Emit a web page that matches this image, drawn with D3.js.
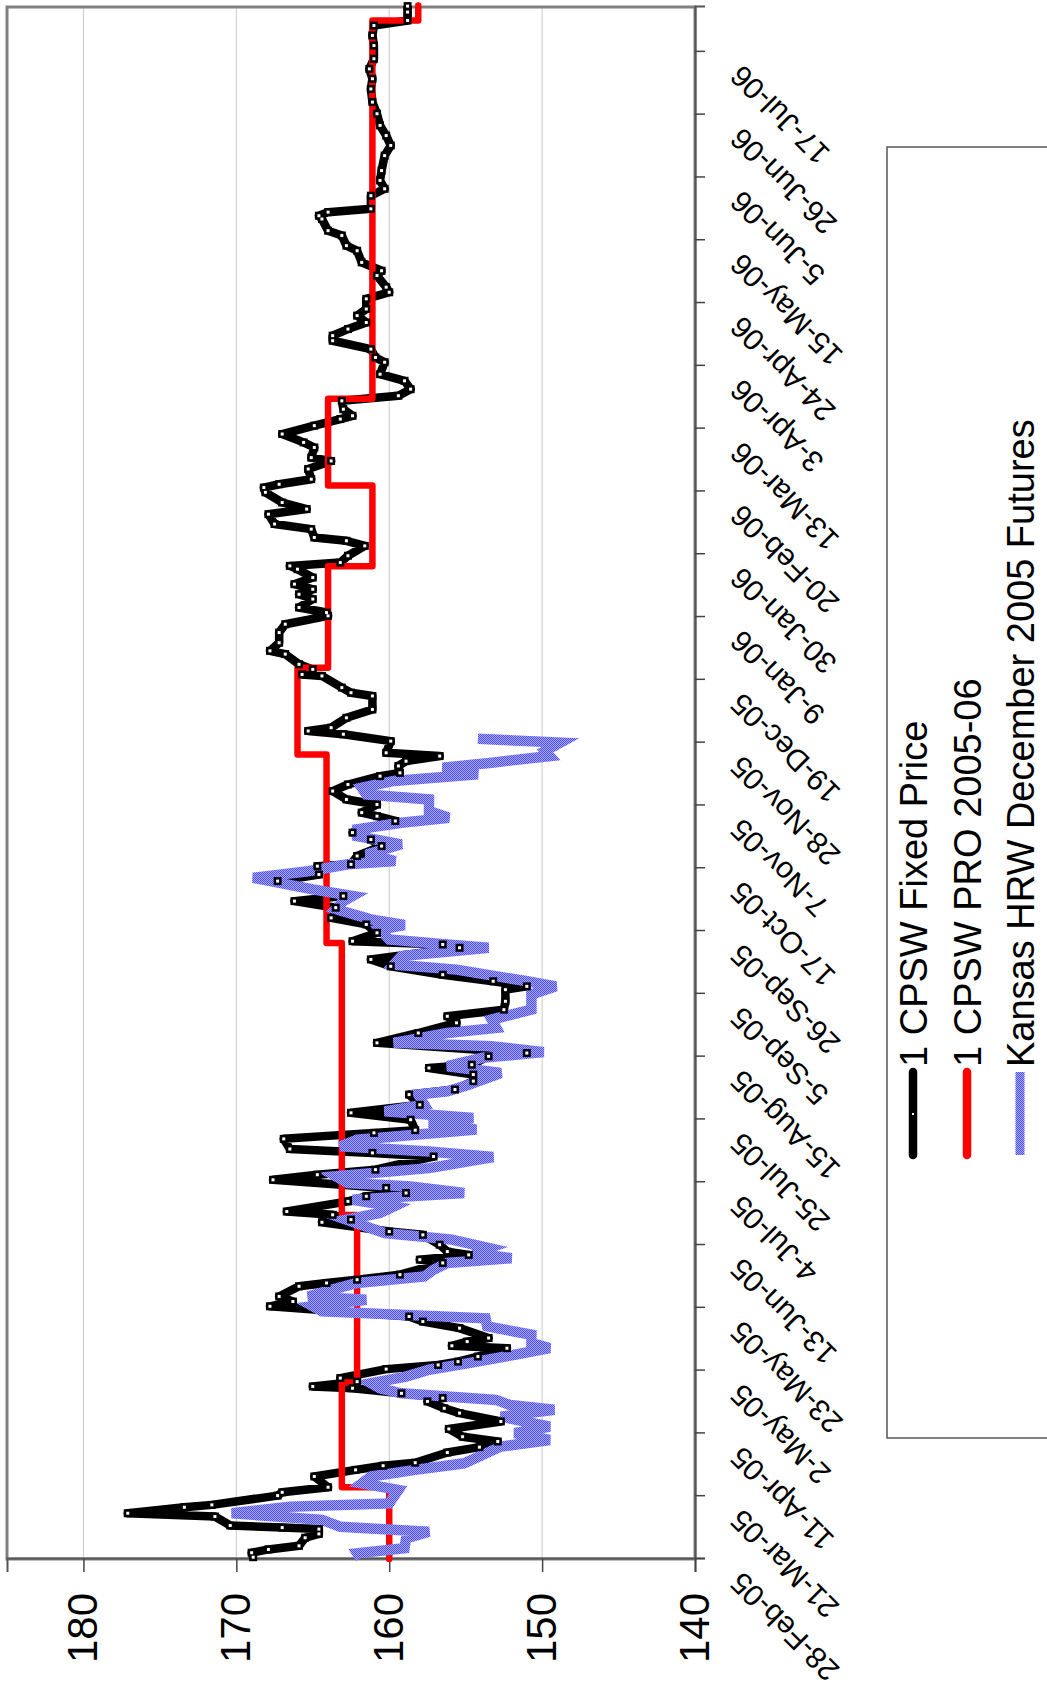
<!DOCTYPE html>
<html><head><meta charset="utf-8">
<script src="https://cdn.jsdelivr.net/npm/d3@7"></script>
<style>body{margin:0;background:#fff} svg{display:block}</style>
</head><body>
<script>
// ---------- DATA ----------
const startDate = "2005-02-28";
const endDate = "2006-08-01";
const dateTickLabels = ["28-Feb-05","21-Mar-05","11-Apr-05","2-May-05","23-May-05","13-Jun-05","4-Jul-05","25-Jul-05","15-Aug-05","5-Sep-05","26-Sep-05","17-Oct-05","7-Nov-05","28-Nov-05","19-Dec-05","9-Jan-06","30-Jan-06","20-Feb-06","13-Mar-06","3-Apr-06","24-Apr-06","15-May-06","5-Jun-06","26-Jun-06","17-Jul-06"];
const valueTicks = [140,150,160,170,180];
const seriesNames = ["1 CPSW Fixed Price","1 CPSW PRO 2005-06","Kansas HRW December 2005 Futures"];

// days since 28-Feb-05
const fixedDays = [0.6,2.1,3.2,4.4,7.1,8.4,10.0,10.5,11.2,14.2,15.3,17.3,18.1,21.2,22.3,24.0,27.6,29.8,31.2,32.2,35.6,37.4,39.3,40.9,43.5,46.0,48.8,50.4,52.7,53.8,55.4,57.1,57.7,59.3,60.5,63.5,64.9,66.0,67.7,70.5,71.3,72.7,73.9,77.2,79.4,81.1,84.5,86.1,87.8,91.2,92.3,93.4,95.1,99.0,100.1,101.7,102.8,105.1,108.4,109.5,112.6,113.5,115.1,116.2,119.6,121.3,122.4,124.1,126.8,128.5,130.2,134.6,135.8,137.1,140.5,142.5,143.4,146.9,149.2,151.9,155.3,157.0,159.8,162.0,164.2,165.3,168.1,169.2,172.6,175.9,179.3,181.5,183.7,186.5,190.4,191.5,193.2,195.4,198.2,200.5,204.4,205.5,206.6,209.4,212.2,214.4,217.8,220.0,221.7,226.7,228.9,231.7,232.3,235.1,238.4,240.6,242.9,246.8,248.4,249.6,252.3,254.0,256.8,259.0,261.8,262.9,265.2,266.8,268.5,269.6,273.5,275.8,276.9,278.0,281.3,284.1,288.6,289.7,291.4,295.3,295.8,297.5,299.2,302.6,303.7,306.4,309.8,312.6,315.4,316.5,318.2,321.0,322.6,324.3,326.0,328.2,331.0,332.1,333.2,335.5,338.8,340.5,341.6,344.4,346.1,349.4,351.1,353.3,356.7,358.3,359.4,361.1,364.5,367.2,368.3,371.7,373.4,376.2,379.0,381.2,382.3,384.5,387.3,389.0,391.2,394.0,396.2,400.2,401.8,404.6,407.4,409.1,411.3,413.5,415.8,418.0,421.4,423.6,425.3,429.2,430.8,433.6,437.5,439.2,442.6,444.2,448.1,449.2,450.4,451.5,455.9,458.2,461.0,464.3,469.3,472.7,476.0,479.4,483.3,487.2,491.6,495.0,498.3,501.7,506.1,509.5,512.8,514.5,517.3,519.3];
const fixedValues = [168.9,169.0,167.9,165.9,165.5,164.6,164.6,167.0,170.4,171.4,177.1,173.4,171.6,167.3,167.0,164.0,164.9,162.2,160.4,158.3,156.2,154.1,152.9,155.2,156.1,152.7,155.4,156.4,157.5,156.5,159.2,162.4,165.0,162.1,163.2,160.2,156.8,155.5,154.2,152.3,155.9,154.9,153.5,155.4,157.8,158.7,167.8,166.3,167.2,165.9,164.1,162.1,159.3,156.5,158.0,154.8,156.2,156.7,157.8,160.0,164.4,162.5,163.7,166.7,162.7,161.5,158.9,160.2,167.6,164.7,160.9,157.1,161.1,166.5,166.9,161.0,158.3,158.6,162.5,158.0,158.7,155.7,154.5,154.5,157.4,154.6,153.5,151.0,160.8,158.1,155.6,156.2,152.5,152.4,152.4,151.0,153.2,156.5,159.9,161.2,155.4,156.5,162.4,160.8,161.5,163.8,163.5,166.2,163.0,167.3,164.6,164.7,162.5,162.1,160.5,161.2,162.4,159.6,160.8,161.8,160.8,162.8,163.7,162.7,160.6,159.3,159.4,158.9,156.7,160.2,159.9,163.0,165.3,163.8,162.8,161.1,161.1,162.5,163.1,164.4,165.7,165.0,165.9,166.8,167.8,167.2,167.2,166.8,164.0,164.1,165.9,165.0,165.9,165.0,166.2,165.0,166.0,166.5,163.2,162.7,161.6,162.8,164.9,165.1,167.5,167.9,165.4,167.0,168.1,168.2,167.2,165.1,165.3,163.8,165.1,164.9,165.6,167.0,164.9,163.2,162.4,163.0,163.1,159.4,158.6,159.0,160.6,160.3,160.9,161.2,163.7,163.7,162.7,161.5,162.1,161.5,161.5,160.0,160.2,160.8,160.5,161.8,162.1,162.8,163.1,164.0,164.4,164.6,164.0,161.2,161.2,160.3,160.6,160.5,160.3,159.9,160.2,160.6,160.8,161.1,161.2,161.1,161.3,161.0,161.0,161.1,161.0,158.8,158.8,158.8];

const proDays = [0,24,59,115,206,269,298,332,359,388,514.5,519.5];
const proValues = [160.0,163.1,162.1,163.1,164.1,166.0,164.0,161.1,164.0,161.1,158.1,158.1];

const futuresDays = [0.2,1.9,3.6,6.9,9.1,10.8,13.1,15.3,17.5,18.6,20.9,23.1,25.3,27.6,29.8,32.0,34.8,37.6,39.8,42.1,44.3,47.6,49.9,51.5,53.2,55.4,57.1,58.8,61.0,63.3,65.5,68.3,70.5,72.2,75.0,77.8,80.5,82.8,84.5,86.7,87.8,90.0,92.3,94.5,96.7,99.0,100.6,102.3,104.0,106.8,109.0,113.5,115.7,117.9,120.1,122.4,124.6,125.7,128.0,130.7,134.4,136.3,138.0,140.2,143.6,145.8,147.5,149.7,151.9,155.3,156.4,158.6,162.5,164.8,167.6,169.5,171.5,172.6,175.9,177.6,180.4,183.7,186.0,188.8,191.5,193.2,197.1,198.8,201.6,204.4,205.5,207.2,210.5,212.0,213.9,217.3,220.0,221.7,223.9,227.8,230.0,232.3,233.4,235.6,239.0,241.7,244.0,246.2,247.9,250.1,254.0,255.7,257.9,260.2,262.4,264.6,266.3,268.5,270.2,273.0,274.3];
const futuresValues = [161.9,162.1,159.0,158.9,157.4,163.2,164.4,170.3,166.5,160.0,159.7,159.4,161.8,161.2,158.3,155.1,153.9,152.7,149.5,151.8,149.5,152.7,149.2,152.1,153.0,159.2,160.6,161.2,158.9,157.4,154.8,151.8,149.5,150.7,150.7,153.6,153.7,164.4,165.0,161.5,165.3,163.8,162.1,157.7,157.1,156.2,152.0,154.5,153.5,155.9,160.3,162.8,160.6,159.7,162.4,155.1,158.6,162.7,163.5,157.4,153.2,157.4,163.2,162.1,154.3,157.4,154.5,160.3,157.7,158.1,156.2,154.8,152.7,156.2,153.9,149.9,153.3,159.7,156.2,153.0,153.3,150.7,150.7,150.7,149.1,151.0,155.6,159.7,159.2,153.5,156.2,160.0,160.6,159.0,161.2,163.5,163.0,162.4,165.0,168.9,165.3,162.7,159.6,161.5,159.2,162.1,162.1,159.2,156.1,157.4,157.4,161.5,161.8,159.7,154.2,156.5,153.3,149.5,149.8,148.8,154.2];

// ---------- DRAW ----------
const W = 1047, H = 1697;
const FONT = "'Liberation Sans', Arial, Helvetica, sans-serif";
const svg = d3.select("body").append("svg").attr("width", W).attr("height", H);

const defs = svg.append("defs");
const pat = defs.append("pattern").attr("id","hatch").attr("patternUnits","userSpaceOnUse")
  .attr("width",2).attr("height",2);
pat.append("rect").attr("width",2).attr("height",2).attr("fill","#aaaaff");
pat.append("rect").attr("width",1).attr("height",1).attr("fill","#4c4cf0");
pat.append("rect").attr("x",1).attr("y",1).attr("width",1).attr("height",1).attr("fill","#4c4cf0");

// chart is drawn in its natural orientation and turned a quarter turn
const g = svg.append("g").attr("transform", `translate(0,${H}) rotate(-90)`);
const plot = {left:138, right:1690, top:7, bottom:695};

const parse = d3.timeParse("%Y-%m-%d");
const t0 = parse(startDate);
const dayToDate = d => new Date(t0.getTime() + d * 864e5);
const x = d3.scaleTime().domain([t0, parse(endDate)]).range([plot.left, plot.right]);
const y = d3.scaleLinear().domain([140, 185]).range([plot.bottom, plot.top]);

// gridlines
g.append("g").selectAll("line").data(valueTicks.filter(v => v > 140)).join("line")
  .attr("x1", plot.left).attr("x2", plot.right)
  .attr("y1", d => y(d)).attr("y2", d => y(d))
  .attr("stroke", "#c8c8c8").attr("stroke-width", 1);

// plot border
g.append("rect").attr("x", plot.left).attr("y", plot.top)
  .attr("width", plot.right - plot.left).attr("height", plot.bottom - plot.top)
  .attr("fill", "none").attr("stroke", "#808080").attr("stroke-width", 3);

// value axis
const yAxis = d3.axisLeft(y).tickValues(valueTicks).tickSize(13).tickPadding(21).tickFormat(d3.format("d"));
const ya = g.append("g").attr("transform", `translate(${plot.left},0)`).call(yAxis);
ya.select(".domain").attr("stroke", "#555").attr("stroke-width", 2);
ya.selectAll(".tick line").attr("stroke", "#444").attr("stroke-width", 1.5);
ya.selectAll(".tick text").attr("font-family", FONT).attr("font-size", 42).attr("fill", "#000");

// date axis
const tickDates = dateTickLabels.map(d3.timeParse("%d-%b-%y"));
const xAxis = d3.axisBottom(x).tickValues(tickDates).tickSize(10).tickFormat(d3.timeFormat("%-d-%b-%y"));
const xa = g.append("g").attr("transform", `translate(0,${plot.bottom})`).call(xAxis);
xa.select(".domain").attr("stroke", "#555").attr("stroke-width", 2);
xa.selectAll(".tick line").attr("stroke", "#444").attr("stroke-width", 1.5);
xa.selectAll(".tick text")
  .attr("font-family", FONT).attr("font-size", 30).attr("fill", "#000")
  .attr("y", 0).attr("dy", 0).attr("text-anchor", "end")
  .attr("transform", "translate(-12,48) rotate(-45)");

// series
const fixed = fixedDays.map((d, i) => ({t: dayToDate(d), v: fixedValues[i]}));
const pro = proDays.map((d, i) => ({t: dayToDate(d), v: proValues[i]}));
const fut = futuresDays.map((d, i) => ({t: dayToDate(d), v: futuresValues[i]}));
const line = d3.line().x(d => x(d.t)).y(d => y(d.v));
const stepLine = d3.line().x(d => x(d.t)).y(d => y(d.v)).curve(d3.curveStepAfter);

g.append("path").datum(fixed).attr("d", line).attr("fill", "none")
  .attr("stroke", "#000").attr("stroke-width", 8.5).attr("stroke-linejoin", "round");
g.append("path").datum(pro).attr("d", stepLine).attr("fill", "none")
  .attr("stroke", "#ff0000").attr("stroke-width", 6.5).attr("stroke-linejoin", "round").attr("stroke-linecap", "round");
g.append("path").datum(fut).attr("d", line).attr("fill", "none")
  .attr("stroke", "url(#hatch)").attr("stroke-width", 10.5).attr("stroke-linejoin", "miter");

const mk = g.append("g");
mk.selectAll("rect.o").data(fixed).join("rect").attr("class","o")
  .attr("x", d => x(d.t) - 4).attr("y", d => y(d.v) - 4).attr("width", 8).attr("height", 8).attr("fill", "#000");
mk.selectAll("rect.i").data(fixed).join("rect").attr("class","i")
  .attr("x", d => x(d.t) - 1.5).attr("y", d => y(d.v) - 1.5).attr("width", 3).attr("height", 3).attr("fill", "#fff");

// legend
const leg = g.append("g");
leg.append("rect").attr("x", 259).attr("y", 887).attr("width", 1291).attr("height", 260)
  .attr("fill", "#fff").attr("stroke", "#555").attr("stroke-width", 1.5);
const rowsY = [913, 967, 1020];
const symStyles = [
  {stroke:"#000", w:8.5, cap:"round"},
  {stroke:"#ff0000", w:8.5, cap:"round"},
  {stroke:"url(#hatch)", w:9, cap:"butt"}
];
seriesNames.forEach((name, i) => {
  leg.append("line").attr("x1", 542).attr("x2", 625).attr("y1", rowsY[i]).attr("y2", rowsY[i])
    .attr("stroke", symStyles[i].stroke).attr("stroke-width", symStyles[i].w).attr("stroke-linecap", symStyles[i].cap);
  if (i === 0) {
    leg.append("rect").attr("x", 582).attr("y", rowsY[i] - 1).attr("width", 2).attr("height", 2).attr("fill", "#fff");
  }
  leg.append("text").attr("x", 630).attr("y", rowsY[i] + 14)
    .attr("font-family", FONT).attr("font-size", 38).attr("fill", "#000").text(name);
});
</script>
</body></html>
